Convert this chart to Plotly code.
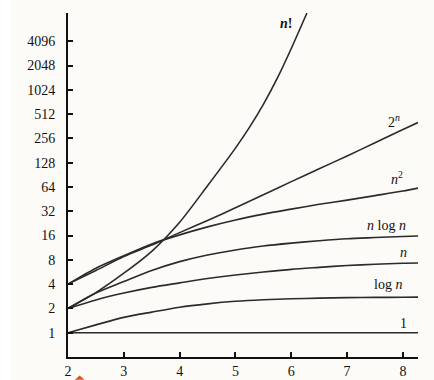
import math
import plotly.graph_objects as go

# ---- data ----
x_vals = [2, 2.5, 3, 3.5, 4, 4.5, 5, 5.5, 6, 6.5, 7, 7.5, 8, 8.27]
const_one = [1, 1, 1, 1, 1, 1, 1, 1, 1, 1, 1, 1, 1, 1]
log_n = [1, 1.25, 1.55, 1.8, 2.07, 2.28, 2.45, 2.56, 2.63, 2.68, 2.72, 2.74, 2.75, 2.76]
lin_n = [2, 2.55, 3.1, 3.65, 4.15, 4.7, 5.2, 5.65, 6.1, 6.45, 6.8, 7.05, 7.25, 7.3]
n_log_n = [2, 3.1, 4.3, 5.9, 7.6, 9.2, 10.6, 11.9, 12.9, 13.8, 14.6, 15.1, 15.6, 15.8]
n_sq = [4, 6.3, 9.0, 12.6, 16.3, 20.5, 25, 29.5, 34, 39, 44, 50, 57, 62]
two_n = [4, 5.9, 8.8, 12.2, 17.4, 24.6, 35.3, 51.3, 74.5, 107.6, 155, 226, 329, 402]
fact_x = [2, 2.5, 3, 3.5, 4, 4.5, 5, 5.25, 5.5, 5.75, 6, 6.28]
fact_y = [2, 3.14, 5.46, 10.2, 23.4, 66.3, 194, 350, 676, 1428, 3327, 9150]

y_ticks = [1, 2, 4, 8, 16, 32, 64, 128, 256, 512, 1024, 2048, 4096]
y_tick_text = ["1", "2", "4", "8", "16", "32", "64", "128", "256", "512", "1024", "2048", "4096"]
x_ticks = [2, 3, 4, 5, 6, 7, 8]

series = [
    ("1", x_vals, const_one, "1", -9, 9),
    ("log n", x_vals, log_n, "log <i>n</i>", -14, 13),
    ("n", x_vals, lin_n, "<i>n</i>", -9, 11),
    ("n log n", x_vals, n_log_n, "<i>n</i> log <i>n</i>", -10, 10),
    ("n^2", x_vals, n_sq, "<i>n</i><sup>2</sup>", -13, 10),
    ("2^n", x_vals, two_n, "2<sup><i>n</i></sup>", -16, 2),
    ("n!", fact_x, fact_y, "<b><i>n</i>!</b>", -13, -10),
]

FONT = "Liberation Serif, DejaVu Serif, serif"
LINE = "#2b2b2b"

fig = go.Figure()
annotations = []
for name, xs, ys, label, dx, dy in series:
    fig.add_trace(go.Scatter(
        x=xs, y=ys, mode="lines", name=name,
        line=dict(color=LINE, width=1.6, shape="spline", smoothing=0.8),
        hoverinfo="skip", showlegend=False,
    ))
    annotations.append(dict(
        x=xs[-1], y=math.log10(ys[-1]), text=label, showarrow=False,
        xref="x", yref="y",
        xanchor="right", yanchor="middle",
        xshift=dx, yshift=dy,
        font=dict(family=FONT, size=14, color="#111"),
    ))

fig.update_layout(
    width=434, height=380,
    margin=dict(l=68, r=16, t=13, b=23),
    paper_bgcolor="#fdfbf8",
    plot_bgcolor="#fdfbf8",
    showlegend=False,
    annotations=annotations,
    shapes=[
        dict(type="rect", xref="paper", yref="paper",
             x0=-0.2, x1=-0.163, y0=-0.1, y1=1.1,
             fillcolor="white", line=dict(width=0), layer="below"),
        dict(type="path", xref="paper", yref="paper",
             path="M 0.0196 -0.066 L 0.0334 -0.054 L 0.0472 -0.066 Z",
             fillcolor="#d9541e", line=dict(width=0)),
    ],
)

fig.update_xaxes(
    range=[2, 8.27],
    tickvals=x_ticks,
    ticks="inside", ticklen=5, tickwidth=1.5, tickcolor="#111",
    showline=True, linecolor="#111", linewidth=2,
    showgrid=False, zeroline=False, automargin=False,
    tickfont=dict(family=FONT, size=14, color="#111"),
)
fig.update_yaxes(
    type="log",
    range=[-0.301, 3.962],
    tickvals=y_ticks, ticktext=y_tick_text,
    ticks="inside", ticklen=5, tickwidth=1.5, tickcolor="#111",
    showline=True, linecolor="#111", linewidth=2,
    showgrid=False, zeroline=False, automargin=False,
    ticklabelstandoff=8,
    tickfont=dict(family=FONT, size=14, color="#111"),
)

fig.write_html(
    "out.html",
    config={"displayModeBar": False},
    post_script="document.body.style.margin='0';document.body.style.padding='0';document.body.style.overflow='hidden';",
)
